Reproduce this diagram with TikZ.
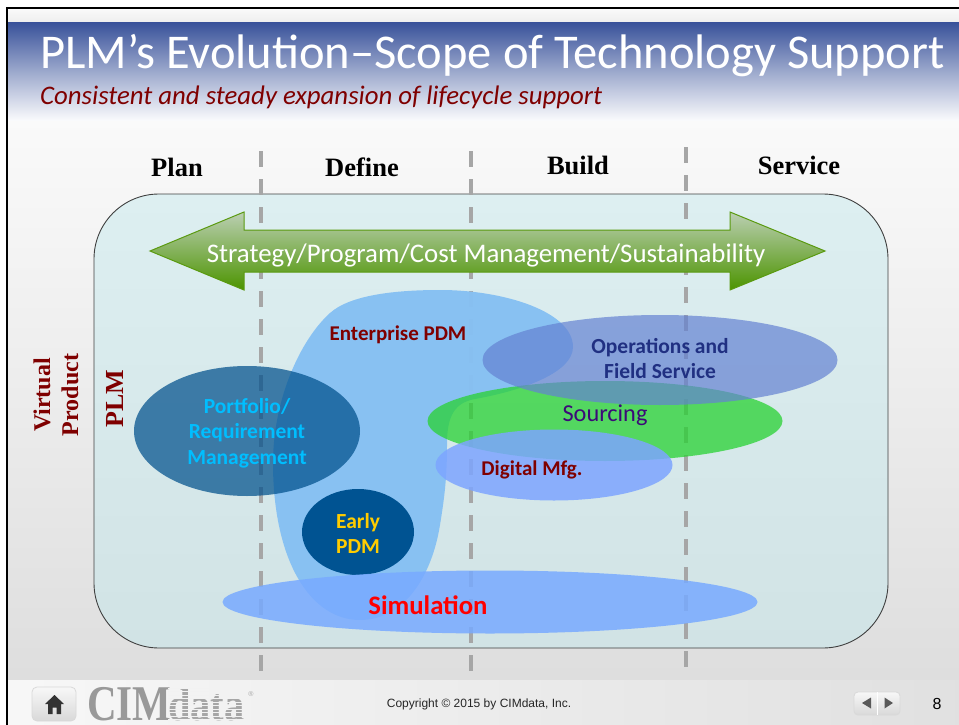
\documentclass[tikz,border=0pt]{standalone}
\usepackage{fontspec}
\setmainfont{Carlito}
\newfontfamily\serifb[Ligatures=TeX]{Liberation Serif}
\newfontfamily\arialf{Liberation Sans}
\usetikzlibrary{shapes.geometric,shadings}
\definecolor{dred}{HTML}{7F0000}
\definecolor{tband}{HTML}{3A539B}
\definecolor{dashg}{HTML}{A6A6A6}
\definecolor{paneltop}{HTML}{DDEFF1}
\definecolor{panelbot}{HTML}{D1E3E5}
\definecolor{arrtop}{HTML}{BBCFB3}
\definecolor{arrbot}{HTML}{4C9400}
\definecolor{arredge}{HTML}{5A9A10}
\tikzset{
  lane/.style={draw=dashg,line width=3.6pt,dash pattern=on 16pt off 12pt},
  lab/.style={font=\fontsize{21}{25}\selectfont\bfseries,align=center,inner sep=0pt,anchor=center},
  phase/.style={font=\serifb\bfseries\fontsize{26.5}{30}\selectfont,text=black,inner sep=0pt,anchor=center},
  vlab/.style={font=\serifb\bfseries\fontsize{26}{30}\selectfont,text=dred,inner sep=0pt,rotate=90,anchor=center,align=center},
  btn/.style={draw=white!85!black,line width=.8pt,top color=white!97!black,bottom color=white!85!black},
}
\begin{document}
\begin{tikzpicture}[x=1pt,y=-1pt,line join=miter]
\useasboundingbox (0,0) rectangle (959,725);
% page
\fill[white] (0,0) rectangle (959,725);
\shade[top color=white!98!black,bottom color=white!93!black] (8,9) rectangle (959,23);
\shade[top color=white!98!black,bottom color=white!87!black] (8,120) rectangle (959,680);
\shade[left color=white!97!black,right color=white!88!black] (8,680) rectangle (959,725);
\shade[top color=tband,bottom color=white!97!tband,middle color=tband!50!white] (8,23) rectangle (959,120);
\draw[black,line width=1.8pt] (7,725) -- (7,8) -- (959,8);
% panel
\node[draw=black!75,line width=.9pt,rounded corners=65pt,minimum width=794pt,minimum height=454pt,inner sep=0pt,anchor=center,
  top color=paneltop,bottom color=panelbot] (panel) at (491,421) {};
% lanes
\coordinate (a1) at (261,151); \coordinate (a2) at (261,672);
\coordinate (b1) at (471,151); \coordinate (b2) at (471,672);
\coordinate (c1) at (686,147); \coordinate (c2) at (686,668);
\draw[lane] (a1) -- (a2);
\draw[lane] (b1) -- (b2);
\draw[lane] (c1) -- (c2);
% arrow
\draw[draw=arredge,line width=1pt,top color=arrtop,bottom color=arrbot]
  (150,251) -- (244,212) -- (244,230) -- (730,230) -- (730,212) -- (825,251) -- (730,290) -- (730,272) -- (244,272) -- (244,290) -- cycle;
\node[inner sep=0pt,text=white,font=\fontsize{26.85}{30}\selectfont] (strategy) at (486,255.5) {Strategy/Program/Cost Management/Sustainability};
% enterprise blob
\fill[fill={rgb,255:red,134;green,192;blue,243},fill opacity=.97] (440,290)
  .. controls (505,290) and (573,312) .. (573,347)
  .. controls (573,372) and (525,390) .. (475,399)
  .. controls (452,403) and (447,420) .. (447,445)
  .. controls (447,480) and (444,500) .. (440,525)
  .. controls (432,575) and (405,620) .. (360,620)
  .. controls (310,620) and (273,560) .. (273,463)
  .. controls (273,400) and (300,340) .. (330,313)
  .. controls (350,295) and (395,290) .. (440,290) -- cycle;
% ellipses
\node[ellipse,minimum width=226pt,minimum height=130pt,inner sep=0pt,fill={rgb,255:red,0;green,80;blue,140},fill opacity=.72,anchor=center] (portfolio) at (247,431) {};
\node[ellipse,minimum width=112pt,minimum height=86pt,inner sep=0pt,fill={rgb,255:red,0;green,83;blue,146},anchor=center] (early) at (358,532) {};
\node[ellipse,minimum width=355pt,minimum height=80pt,inner sep=0pt,fill={rgb,255:red,40;green,210;blue,50},fill opacity=.75,anchor=center] (sourcing) at (605,421) {};
\node[ellipse,minimum width=237pt,minimum height=71pt,inner sep=0pt,fill={rgb,255:red,125;green,165;blue,255},fill opacity=.85,anchor=center] (digital) at (554,465) {};
\node[ellipse,minimum width=355pt,minimum height=90pt,inner sep=0pt,fill={rgb,255:red,100;green,130;blue,210},fill opacity=.7,anchor=center] (ops) at (660,360) {};
\node[ellipse,minimum width=535pt,minimum height=63pt,inner sep=0pt,fill={rgb,255:red,120;green,170;blue,255},fill opacity=.85,anchor=center] (sim) at (490,602) {};
% labels
\node[lab,text=dred] (tent) at (398,335) {Enterprise PDM};
\node[lab,text={rgb,255:red,0;green,190;blue,255},font=\fontsize{21.5}{25.7}\selectfont\bfseries] (tport) at (247,433) {Portfolio/\\Requirement\\Management};
\node[lab,text={rgb,255:red,255;green,204;blue,0},font=\fontsize{21.5}{25}\selectfont\bfseries] (tearly) at (358,533) {Early\\PDM};
\node[lab,text={rgb,255:red,32;green,48;blue,130},font=\fontsize{21.5}{25}\selectfont\bfseries] (tops) at (660,359) {Operations and\\Field Service};
\node[lab,text={rgb,255:red,60;green,10;blue,120},font=\fontsize{24.3}{28}\selectfont] (tsrc) at (605,415) {Sourcing};
\node[lab] (tdig) at (532,470) {\textcolor{dred}{Digital Mfg.}};
\node[lab,text=red,font=\fontsize{26.7}{30}\selectfont\bfseries] (tsim) at (428,605) {Simulation};
\node[vlab] (tplm) at (115,399) {PLM};
\node[vlab,font=\serifb\bfseries\fontsize{24}{28}\selectfont] (tvp) at (56,395) {Virtual\\Product};
\node[phase] (tplan) at (177,167) {Plan};
\node[phase] (tdef) at (362,167) {Define};
\node[phase] (tbuild) at (578,165) {Build};
\node[phase] (tserv) at (799,165) {Service};
% title
\node[inner sep=0pt,anchor=base west,text=white,font=\fontsize{48.5}{52}\selectfont] (title) at (40,69) {PLM’s Evolution–Scope of Technology Support};
\node[inner sep=0pt,anchor=base west,text=dred,font=\itshape\fontsize{26.8}{30}\selectfont] (sub) at (40,104) {Consistent and steady expansion of lifecycle support};
% footer
\path[btn,rounded corners=5pt] (32,687) rectangle (76,721);
\fill[black!80] (54.5,695) -- (64,704) -- (61,704) -- (61,714) -- (56.5,714) -- (56.5,707.5) -- (52.5,707.5) -- (52.5,714) -- (48,714) -- (48,704) -- (45,704) -- cycle;
\node[inner sep=0pt,anchor=base west,text=black!40,font=\serifb\bfseries\fontsize{50}{52}\selectfont,xscale=.82] (logo) at (87,720.5) {CIM};
\node[inner sep=0pt,anchor=base west,text=black!35,font=\serifb\bfseries\fontsize{46}{52}\selectfont,xscale=.88] (logod) at (168,720.5) {data};
\foreach \yy in {688,691.5,695,698.5,702,705.5,709,712.5,716,719.5} \draw[white!95!black,line width=.9pt] (168,\yy) -- (246,\yy);
\node[inner sep=0pt,anchor=center,text=black!35,font=\arialf\fontsize{7}{8}\selectfont] (reg) at (251,694) {®};
\node[inner sep=0pt,anchor=center,text=black!85,font=\arialf\fontsize{12}{14}\selectfont] (copy) at (479,704) {Copyright © 2015 by CIMdata, Inc.};
\path[btn,rounded corners=4pt] (854,692) rectangle (900,715);
\draw[white,line width=.8pt] (877,692) -- (877,715);
\fill[black!65] (862,703) -- (871,697.5) -- (871,708.5) -- cycle;
\fill[black!65] (893,703) -- (884.5,697.5) -- (884.5,708.5) -- cycle;
\node[inner sep=0pt,anchor=center,text=black,font=\arialf\fontsize{16}{18}\selectfont] (pg) at (937,704) {8};
\end{tikzpicture}
\end{document}
